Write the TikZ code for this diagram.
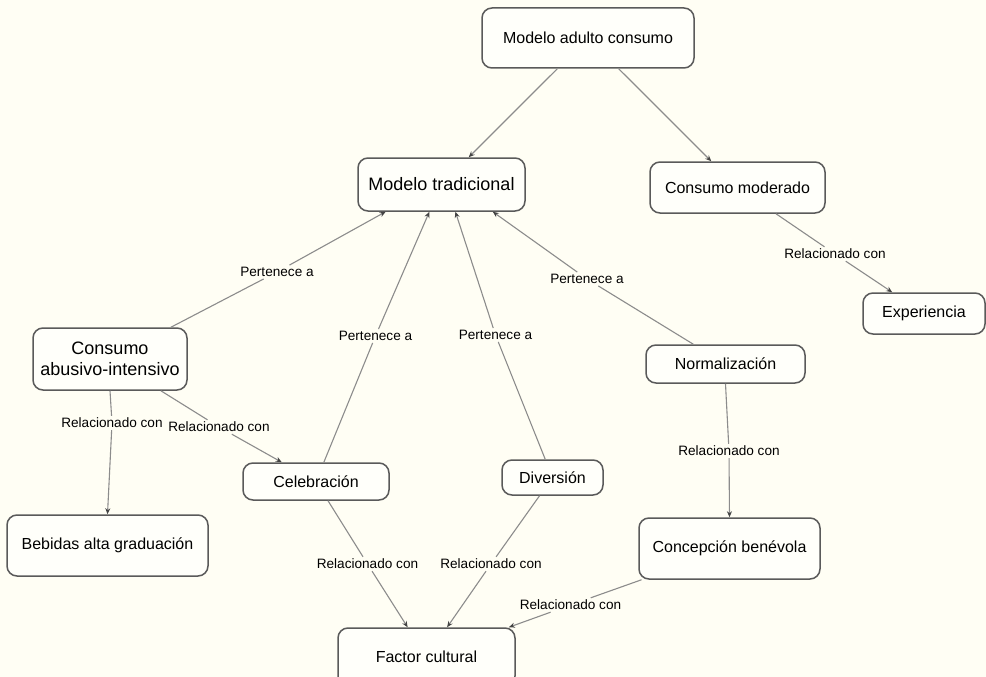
\documentclass[tikz,border=0pt]{standalone}
\usepackage{fontspec}
\setmainfont{Liberation Sans}
\usetikzlibrary{arrows.meta}
\definecolor{bgc}{HTML}{FFFEF4}
\definecolor{boxfill}{HTML}{FFFFFA}
\definecolor{boxline}{HTML}{5A5A5A}
\definecolor{linec}{HTML}{8C8C8C}
\definecolor{tipc}{HTML}{444444}
\tikzset{
  concept/.style={draw=boxline, line width=1.5pt, fill=boxfill, rounded corners=10pt, inner sep=0pt, align=center, font=\fontsize{16}{19}\selectfont},
  bigconcept/.style={concept, font=\fontsize{18}{21}\selectfont},
  lbl/.style={inner sep=2pt, font=\fontsize{13.6}{15}\selectfont},
  link/.style={draw=linec, line width=1.1pt},
  arr/.style={link, -{Stealth[length=6pt,width=5pt,color=tipc]}}
}
\begin{document}
\begin{tikzpicture}[x=1pt,y=-1pt]
\fill[bgc] (0,0) rectangle (986,677);
\useasboundingbox (0,0) rectangle (986,677);

\node[concept, minimum width=212pt, minimum height=60pt] (adulto) at (588,38) {Modelo adulto consumo};
\node[bigconcept, minimum width=167pt, minimum height=53pt] (trad) at (441.5,184.5) {Modelo tradicional};
\node[concept, minimum width=175pt, minimum height=51pt] (moder) at (737.5,187.5) {Consumo moderado};
\node[concept, minimum width=122pt, minimum height=41pt] (exper) at (924,313.5) {Experiencia};
\node[bigconcept, minimum width=154pt, minimum height=62pt] (abus) at (110,359) {Consumo\\abusivo-intensivo};
\node[concept, minimum width=159pt, minimum height=38pt] (norm) at (725.5,364) {Normalización};
\node[concept, minimum width=146pt, minimum height=37pt] (celeb) at (316,481.5) {Celebración};
\node[concept, minimum width=101pt, minimum height=35pt] (divers) at (552.5,477.5) {Diversión};
\node[concept, minimum width=201pt, minimum height=61pt] (bebid) at (107.5,545.5) {Bebidas alta graduación};
\node[concept, minimum width=181pt, minimum height=61pt] (concep) at (729.5,548.5) {Concepción benévola};
\node[concept, minimum width=177pt, minimum height=58pt] (factor) at (426.5,657) {Factor cultural};

% labels
\node[lbl] (l1) at (277,272) {Pertenece a};
\node[lbl] (l2) at (375.5,336) {Pertenece a};
\node[lbl] (l3) at (495.5,335) {Pertenece a};
\node[lbl] (l4) at (587,279) {Pertenece a};
\node[lbl] (l5) at (835,254) {Relacionado con};
\node[lbl] (l6) at (219,427) {Relacionado con};
\node[lbl] (l7) at (112,423) {Relacionado con};
\node[lbl] (l8) at (729,451) {Relacionado con};
\node[lbl] (l9) at (367.5,564) {Relacionado con};
\node[lbl] (l10) at (491,564) {Relacionado con};
\node[lbl] (l11) at (570.5,605) {Relacionado con};

% direct links
\draw[arr] (adulto) -- (trad);
\draw[arr] (adulto) -- (moder);

% labelled links
\draw[link] (abus) -- (l1);  \draw[arr] (l1) -- (trad.206);
\draw[link] (celeb) -- (l2); \draw[arr] (l2) -- (trad.246);
\draw[link] (divers) -- (l3); \draw[arr] (l3) -- (trad.297);
\draw[link] (norm) -- (l4); \draw[arr] (l4) -- (trad.332);
\draw[link] (moder) -- (l5); \draw[arr] (l5) -- (exper);
\draw[link] (abus) -- (l6); \draw[arr] (l6) -- (celeb);
\draw[link] (abus.south) -- (l7); \draw[arr] (l7) -- (bebid.north);
\draw[link] (norm.south) -- (l8); \draw[arr] (l8) -- (concep.north);
\draw[link] (celeb) -- (l9); \draw[arr] (l9) -- (factor);
\draw[link] (divers) -- (l10); \draw[arr] (l10) -- (factor);
\draw[link] (concep) -- (l11); \draw[arr] (l11) -- (factor);
\end{tikzpicture}
\end{document}
